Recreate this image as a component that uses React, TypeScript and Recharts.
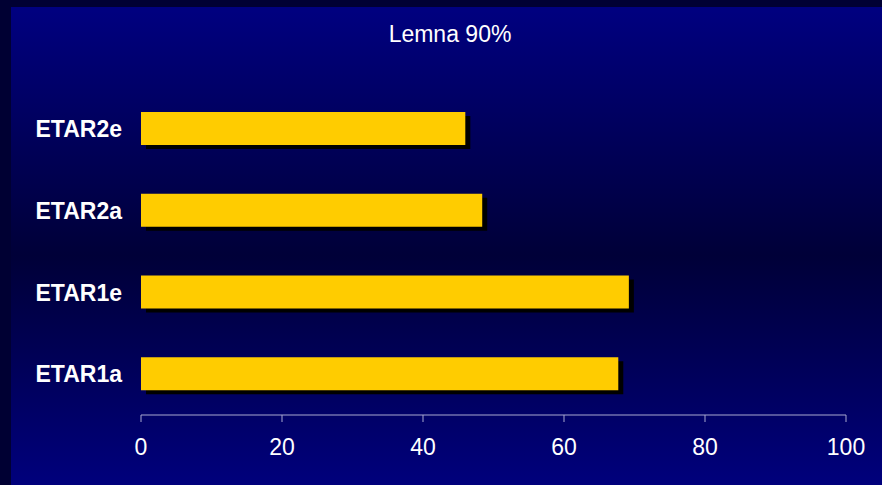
import React from "react";
import { Bar, BarChart, XAxis, YAxis } from "recharts";

const categories = ["ETAR2e", "ETAR2a", "ETAR1e", "ETAR1a"];
const values = [46, 48.4, 69.2, 67.7];
const xTicks = [0, 20, 40, 60, 80, 100];
const title = "Lemna 90%";

const data = categories.map((name, i) => ({ name, value: values[i] }));

const FONT = "'Liberation Sans', Arial, sans-serif";

function ShadowBar(props: any) {
  const { x, y, width, height } = props;
  if (!width || width <= 0) return null;
  return (
    <g>
      <rect x={x + 5} y={y + 4} width={width} height={height} fill="#000000" />
      <rect x={x} y={y} width={width} height={height} fill="#FFCC00" />
    </g>
  );
}

export default function App() {
  return (
    <div
      style={{
        position: "absolute",
        left: 0,
        top: 0,
        width: 882,
        height: 485,
        background: "#000033",
        overflow: "hidden",
      }}
    >
      <div
        style={{
          position: "absolute",
          left: 11,
          top: 7,
          width: 871,
          height: 478,
          background: "linear-gradient(to bottom, #000080 0%, #000038 52%, #00007c 100%)",
        }}
      />
      <div
        style={{
          position: "absolute",
          left: 0,
          top: 21,
          width: 900,
          textAlign: "center",
          color: "#ffffff",
          fontFamily: FONT,
          fontSize: 23,
        }}
      >
        {title}
      </div>
      <div style={{ position: "absolute", left: 0, top: 0 }}>
        <BarChart
          width={882}
          height={485}
          data={data}
          layout="vertical"
          margin={{ top: 88, right: 36, bottom: 30, left: 0 }}
          barSize={33}
        >
          <XAxis
            type="number"
            domain={[0, 100]}
            ticks={xTicks}
            height={40}
            stroke="#a8a8d0"
            tickSize={7}
            tickMargin={17}
            tick={{ fill: "#ffffff", fontSize: 23, fontFamily: FONT }}
            interval={0}
          />
          <YAxis
            type="category"
            dataKey="name"
            width={141}
            axisLine={false}
            tickLine={false}
            tickSize={0}
            tickMargin={19}
            tick={{ fill: "#ffffff", fontSize: 23, fontWeight: "bold", fontFamily: FONT }}
          />
          <Bar dataKey="value" shape={<ShadowBar />} isAnimationActive={false} />
        </BarChart>
      </div>
    </div>
  );
}
